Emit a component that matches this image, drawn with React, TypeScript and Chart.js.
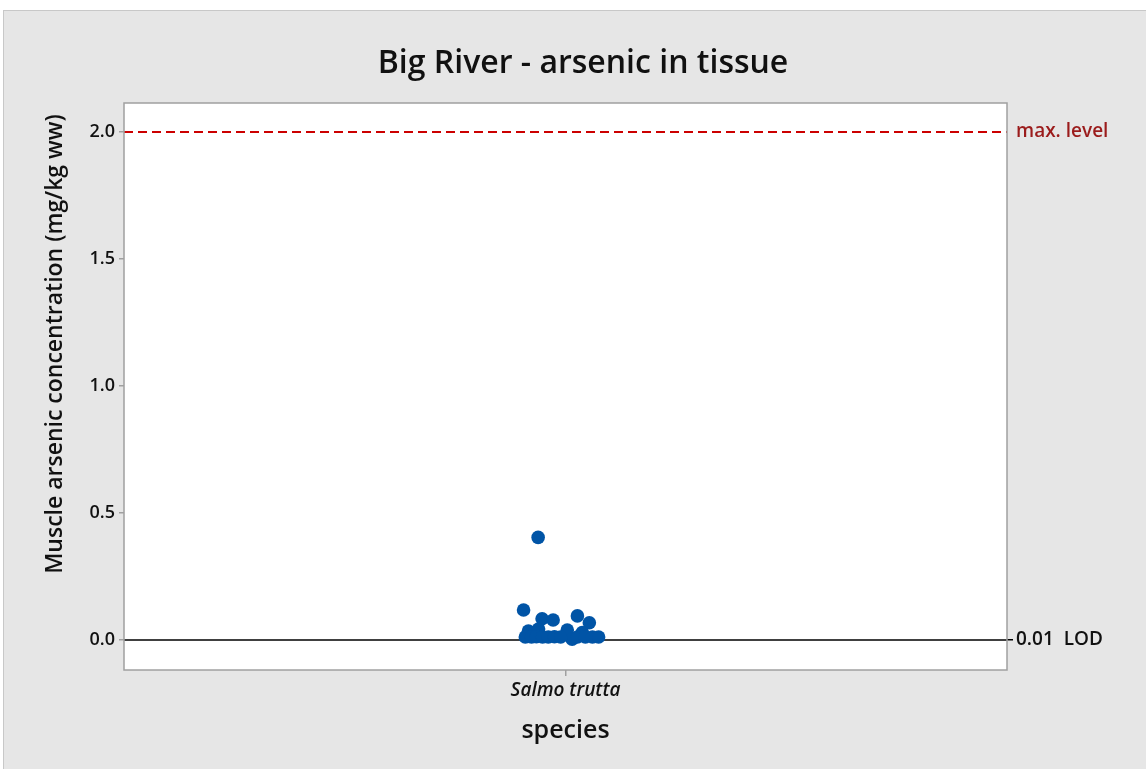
import React, { useEffect, useRef } from "react";
import { Chart, registerables } from "chart.js";

Chart.register(...registerables);

const chartTitle = "Big River - arsenic in tissue";
const yAxisTitle = "Muscle arsenic concentration (mg/kg ww)";
const xAxisTitle = "species";
const categories = ["Salmo trutta"];
const categoryPositions = [1];
const yTickValues = [0, 0.5, 1.0, 1.5, 2.0];
const yMin = -0.118;
const yMax = 2.114;
const maxLevel = 2.0;
const lodLevel = 0.0;
const refLabels = ["max. level", "0.01  LOD"];

// Salmo trutta arsenic values (mg/kg ww) and horizontal jitter offsets
const arsenicValues = [
  0.404, 0.118, 0.084, 0.079, 0.095, 0.068, 0.039, 0.035, 0.043, 0.029, 0.003,
  0.012, 0.012, 0.013, 0.012, 0.012, 0.013, 0.012, 0.012, 0.012, 0.012, 0.012,
];
const jitterOffsets = [
  -0.062, -0.095, -0.053, -0.028, 0.027, 0.054, 0.004, -0.084, -0.061, 0.038, 0.015,
  -0.091, -0.077, -0.066, -0.052, -0.039, -0.025, -0.011, 0.027, 0.045, 0.061, 0.075,
];

const FONT = "'Open Sans', 'Noto Sans', sans-serif";

export default function App() {
  const ref = useRef<HTMLCanvasElement | null>(null);

  useEffect(() => {
    const prevMargin = document.body.style.margin;
    document.body.style.margin = "0";
    if (!ref.current) return;

    const points = arsenicValues.map((v, i) => ({
      x: categoryPositions[0] + jitterOffsets[i],
      y: v,
    }));

    const bgPlugin = {
      id: "bgPlugin",
      beforeDraw(chart: any) {
        const { ctx, chartArea } = chart;
        ctx.save();
        ctx.fillStyle = "#ffffff";
        ctx.fillRect(chartArea.left, chartArea.top, chartArea.right - chartArea.left, chartArea.bottom - chartArea.top);
        ctx.restore();
      },
      afterDraw(chart: any) {
        const { ctx, chartArea } = chart;
        ctx.save();
        ctx.strokeStyle = "#a0a0a0";
        ctx.lineWidth = 1.5;
        ctx.strokeRect(chartArea.left, chartArea.top, chartArea.right - chartArea.left, chartArea.bottom - chartArea.top);
        ctx.fillStyle = "#111111";
        ctx.font = `600 32px ${FONT}`;
        ctx.textAlign = "center";
        ctx.textBaseline = "middle";
        ctx.fillText(chartTitle, 579, 53);
        ctx.translate(51, 333);
        ctx.rotate(-Math.PI / 2);
        ctx.font = `600 23px ${FONT}`;
        ctx.fillText(yAxisTitle, 0, 0);
        ctx.restore();
      },
    };

    const chart = new Chart(ref.current, {
      type: "scatter",
      data: {
        datasets: [
          {
            type: "line",
            data: [
              { x: 0, y: maxLevel },
              { x: 2, y: maxLevel },
            ],
            borderColor: "#cc0000",
            borderWidth: 2,
            borderDash: [9, 5],
            pointRadius: 0,
            order: 3,
          } as any,
          {
            type: "line",
            data: [
              { x: 0, y: lodLevel },
              { x: 2, y: lodLevel },
            ],
            borderColor: "#000000",
            borderWidth: 1.5,
            pointRadius: 0,
            order: 2,
          } as any,
          {
            data: points,
            backgroundColor: "#0054a6",
            borderColor: "#0054a6",
            pointRadius: 6.8,
            pointBorderWidth: 0,
            order: 1,
          },
        ],
      },
      options: {
        responsive: false,
        animation: false,
        events: [],
        layout: { padding: { top: 92, left: 0, right: 0, bottom: 0 } },
        plugins: {
          legend: { display: false },
          tooltip: { enabled: false },
          title: { display: false },
        },
        scales: {
          x: {
            type: "linear",
            min: 0,
            max: 2,
            afterBuildTicks(scale: any) {
              scale.ticks = categoryPositions.map((v) => ({ value: v }));
            },
            afterFit(scale: any) {
              scale.height = 100;
            },
            ticks: {
              callback: (v: any) => categories[categoryPositions.indexOf(Number(v))] ?? "",
              font: { family: FONT, size: 19, style: "italic", weight: "600" },
              color: "#111111",
              padding: 3,
              maxRotation: 0,
            },
            grid: { drawOnChartArea: false, tickLength: 6, color: "#a0a0a0", lineWidth: 1.5 },
            border: { display: false },
            title: {
              display: true,
              text: xAxisTitle,
              font: { family: FONT, size: 25, weight: "600" },
              color: "#111111",
              padding: { top: 0, bottom: 24 },
            },
          },
          y: {
            type: "linear",
            position: "left",
            min: yMin,
            max: yMax,
            afterBuildTicks(scale: any) {
              scale.ticks = yTickValues.map((v) => ({ value: v }));
            },
            afterFit(scale: any) {
              scale.width = 120;
            },
            ticks: {
              callback: (v: any) => Number(v).toFixed(1),
              font: { family: FONT, size: 18, weight: "600" },
              color: "#111111",
              padding: 4,
            },
            grid: { drawOnChartArea: false, tickLength: 5, color: "#a0a0a0", lineWidth: 1.5 },
            border: { display: false },
          },
          y2: {
            type: "linear",
            position: "right",
            min: yMin,
            max: yMax,
            afterBuildTicks(scale: any) {
              scale.ticks = [{ value: maxLevel }, { value: lodLevel }];
            },
            afterFit(scale: any) {
              scale.width = 140;
            },
            ticks: {
              callback: (v: any) => (Number(v) === maxLevel ? refLabels[0] : refLabels[1]),
              font: { family: FONT, size: 19, weight: "600" },
              color: (ctx: any) => (ctx.tick && ctx.tick.value === maxLevel ? "#9b1c1c" : "#111111"),
              padding: 3,
            },
            grid: {
              drawOnChartArea: false,
              tickLength: 6,
              lineWidth: 1.5,
              color: (ctx: any) => (ctx.tick && ctx.tick.value === maxLevel ? "rgba(0,0,0,0)" : "#000000"),
            },
            border: { display: false },
          },
        },
      },
      plugins: [bgPlugin],
    } as any);

    return () => {
      chart.destroy();
      document.body.style.margin = prevMargin;
    };
  }, []);

  return (
    <div style={{ position: "relative", width: 1146, height: 769, background: "#ffffff", overflow: "hidden" }}>
      <div
        style={{
          position: "absolute",
          left: 3,
          top: 10,
          width: 1143,
          height: 759,
          background: "#e6e6e6",
          borderTop: "1px solid #c8c8c8",
          borderLeft: "1px solid #c8c8c8",
        }}
      >
        <canvas ref={ref} width={1143} height={759} style={{ display: "block" }} />
      </div>
    </div>
  );
}
